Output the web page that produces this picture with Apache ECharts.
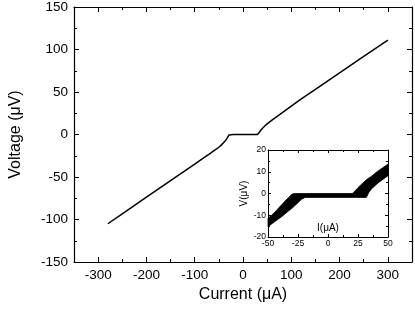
<!DOCTYPE html>
<html>
<head>
<meta charset="utf-8">
<script src="https://cdn.jsdelivr.net/npm/echarts@6/dist/echarts.min.js"></script>
<style>html,body{margin:0;padding:0;background:#fff}#c{width:415px;height:310px}</style>
</head>
<body>
<div id="c"></div>
<script>
// Main I-V curve
const mainCurrent = [-280, -250, -200, -150, -100, -83, -70, -60, -50, -45, -40, -36, -33, -31, -29, -28, -20, -10, 0, 10, 20, 30, 32, 35, 40, 45, 50, 60, 70, 80, 100, 120, 150, 200, 250, 300];
const mainVoltage = [-105, -93.3, -73.8, -54.3, -34.8, -28, -23, -19, -15, -12.5, -9.5, -7, -4.5, -2.5, -0.5, 0, 0, 0, 0, 0, 0, 0, 1.2, 3.5, 7, 10, 12.5, 16.8, 21, 25.2, 33.5, 41.5, 53, 72.5, 92, 111];
const mainXTicks = [-300, -200, -100, 0, 100, 200, 300];

// Inset band (noisy data) edges
const insetCurrent = [-50, -47, -44, -41, -38, -35, -33, -31, -30, -28, -25, -22, -19, -10, 0, 10, 20, 21, 23, 25, 28, 32, 34, 36, 39, 42, 46, 50];
const insetUpper = [-11.4, -10, -8.4, -6.6, -4.8, -3, -1.9, -0.8, -0.3, 0, 0, 0, 0, 0, 0, 0, 0, 0.2, 1.5, 2.7, 4.3, 6.3, 7.1, 7.8, 9.2, 10.5, 12, 13.5];
const insetLower = [-15.3, -14, -12.8, -11.6, -10.4, -9, -8.1, -7.2, -6.8, -5.8, -4.2, -2.6, -1.8, -1.8, -1.8, -1.8, -1.8, -1.8, -1.8, -1.8, -1.8, -1.8, 0.5, 2, 3.5, 5, 6.6, 8.2];

const FONT = 'Liberation Sans';
const blk = '#000';

const chart = echarts.init(document.getElementById('c'), null, {renderer: 'canvas'});

function mainX(pos, major) {
  return {
    gridIndex: 0, type: 'value', min: -350, max: 350, position: pos,
    interval: major ? undefined : 50,
    axisLine: {show: !major, onZero: false, lineStyle: {color: blk, width: 1.2}},
    axisTick: major ? {show: true, inside: true, length: 5, customValues: mainXTicks, lineStyle: {color: blk, width: 1}}
                    : {show: true, inside: true, length: 3, lineStyle: {color: blk, width: 1}},
    axisLabel: (pos === 'bottom' && !major) ? {
      show: true, margin: 6, fontSize: 13.5, fontFamily: FONT, color: blk,
      formatter: v => (mainXTicks.indexOf(v) >= 0 ? String(v) : '')
    } : {show: false},
    splitLine: {show: false},
    name: (pos === 'bottom' && !major) ? 'Current (\u03bcA)' : '',
    nameLocation: 'middle', nameGap: 22,
    nameTextStyle: {fontSize: 16, fontFamily: FONT, color: blk}
  };
}
function mainY(pos) {
  return {
    gridIndex: 0, type: 'value', min: -150, max: 150, interval: 50, position: pos,
    axisLine: {show: true, onZero: false, lineStyle: {color: blk, width: 1.2}},
    axisTick: {show: true, inside: true, length: 5, lineStyle: {color: blk}},
    minorTick: {show: true, splitNumber: 2, length: 3, lineStyle: {color: blk}},
    axisLabel: pos === 'left' ? {show: true, margin: 6, fontSize: 13.5, fontFamily: FONT, color: blk} : {show: false},
    splitLine: {show: false},
    name: pos === 'left' ? 'Voltage (\u03bcV)' : '',
    nameLocation: 'middle', nameGap: 50,
    nameTextStyle: {fontSize: 16, fontFamily: FONT, color: blk}
  };
}
function insetX(pos) {
  return {
    gridIndex: 1, type: 'value', min: -50, max: 50, interval: 25, position: pos, z: 8,
    axisLine: {show: true, onZero: false, lineStyle: {color: blk, width: 1}},
    axisTick: {show: true, inside: true, length: 3, lineStyle: {color: blk}},
    minorTick: {show: true, splitNumber: 2, length: 2, lineStyle: {color: blk}},
    axisLabel: pos === 'bottom' ? {show: true, margin: 2, fontSize: 8.5, fontFamily: FONT, color: blk} : {show: false},
    splitLine: {show: false},
    name: pos === 'bottom' ? 'I(\u03bcA)' : '',
    nameLocation: 'middle', nameGap: -14,
    nameTextStyle: {fontSize: 10, fontFamily: FONT, color: blk}
  };
}
function insetY(pos) {
  return {
    gridIndex: 1, type: 'value', min: -20, max: 20, interval: 10, position: pos, z: 8,
    axisLine: {show: true, onZero: false, lineStyle: {color: blk, width: 1}},
    axisTick: {show: true, inside: true, length: 3, lineStyle: {color: blk}},
    minorTick: {show: true, splitNumber: 2, length: 2, lineStyle: {color: blk}},
    axisLabel: pos === 'left' ? {show: true, margin: 2, fontSize: 8.5, fontFamily: FONT, color: blk} : {show: false},
    splitLine: {show: false},
    name: pos === 'left' ? 'V(\u03bcV)' : '',
    nameLocation: 'middle', nameGap: 19,
    nameTextStyle: {fontSize: 10, fontFamily: FONT, color: blk}
  };
}

const option = {
  animation: false,
  backgroundColor: '#fff',
  grid: [
    {left: 69, top: 6, right: 2, bottom: 48},
    {left: 268, top: 150, width: 120, height: 87, show: true, backgroundColor: '#fff', borderWidth: 0, z: 5}
  ],
  xAxis: [mainX('bottom', false), mainX('bottom', true), mainX('top', false), mainX('top', true), insetX('bottom'), insetX('top')],
  yAxis: [mainY('left'), mainY('right'), insetY('left'), insetY('right')],
  series: [
    {
      type: 'line', xAxisIndex: 0, yAxisIndex: 0,
      data: mainCurrent.map((c, i) => [c, mainVoltage[i]]),
      symbol: 'none', smooth: false,
      lineStyle: {color: blk, width: 1.5}
    },
    {
      type: 'custom', xAxisIndex: 4, yAxisIndex: 2, z: 10,
      data: [[0, 0]],
      renderItem: function (params, api) {
        const pts = [];
        for (let i = 0; i < insetCurrent.length; i++) pts.push(api.coord([insetCurrent[i], insetUpper[i]]));
        for (let i = insetCurrent.length - 1; i >= 0; i--) pts.push(api.coord([insetCurrent[i], insetLower[i]]));
        return {type: 'polygon', shape: {points: pts}, style: {fill: blk, stroke: blk, lineWidth: 0.8}};
      }
    }
  ]
};
chart.setOption(option);
</script>
</body>
</html>
